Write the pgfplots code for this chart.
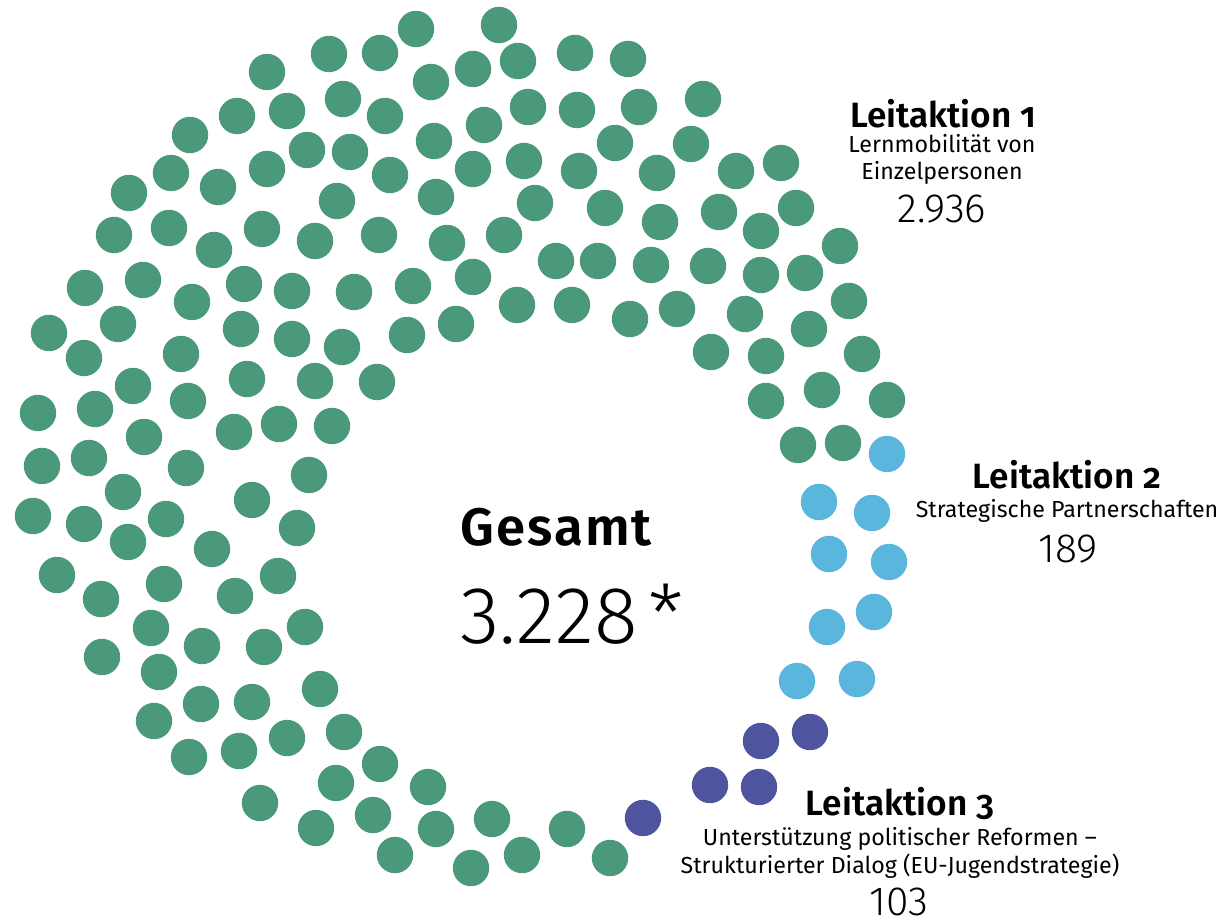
\documentclass[border=0pt]{standalone}
\usepackage{fontspec}
\setmainfont{Fira Sans}[BoldFont={Fira Sans SemiBold}]
\newfontfamily\lightfont{Fira Sans Light}
\usepackage{pgfplots}
\pgfplotsset{compat=1.18}
\definecolor{kaeins}{HTML}{4A997A}
\definecolor{kazwei}{HTML}{5BB6DE}
\definecolor{kadrei}{HTML}{4E559E}
\newcommand{\osf}[1]{{\addfontfeatures{Numbers=OldStyle}#1}}

\begin{document}
\begin{tikzpicture}
\begin{axis}[
  width=12.27cm, height=9.24cm, scale only axis,
  xmin=0, xmax=1227, ymin=0, ymax=924, y dir=reverse,
  hide axis, clip=false,
]
% Leitaktion 1 (gruen)
\addplot[only marks, mark=*, kaeins, mark size=1.75mm] coordinates {
(416,29) (499,25)
(329,54) (380,53) (575,53) (628,59)
(267,72) (431,82) (473,69) (518,61)
(703,99)
(237,116) (287,111) (343,99) (385,116)
(528,107) (577,110) (639,107)
(190,135)
(434,141) (484,125)
(615,143) (691,144)
(171,173) (218,187) (267,169) (307,150) (350,152) (390,175)
(473,169) (524,161) (579,171) (657,173) (736,171) (781,163)
(129,193)
(337,201) (436,197) (535,203) (605,208) (660,222) (719,212) (761,231) (796,208)
(114,235) (169,228) (214,250) (262,229) (315,241) (379,235)
(447,243) (504,235) (556,261) (598,261) (651,265) (708,266) (761,275) (805,273) (840,246)
(85,288) (143,280) (192,302) (244,284) (292,291) (354,292) (413,286) (473,277)
(849,301)
(517,305) (572,305) (630,319) (677,309) (745,314)
(49,333) (118,324) (84,358) (181,354) (241,329) (292,339) (342,347) (407,335) (456,324)
(711,352) (766,356) (809,329) (862,354)
(38,413) (95,409) (133,386) (188,401) (247,379) (315,381) (377,382)
(766,401) (822,390) (887,400)
(42,466) (89,458) (144,437) (234,432) (279,424) (332,426)
(798,445) (843,443)
(186,468) (309,475) (123,492) (252,500)
(33,516) (84,524) (166,519) (297,528)
(128,542) (212,549)
(57,575) (101,599) (164,584) (235,596) (278,576)
(102,657) (151,628) (202,646) (264,647) (305,627)
(159,672) (320,689) (201,704) (252,702) (154,721) (287,738) (344,732)
(189,757) (239,751) (380,764)
(336,783) (428,787) (260,803)
(316,828) (373,815) (436,829) (492,819) (567,829)
(395,855) (471,868) (522,855) (610,858)
};
% Leitaktion 2 (hellblau)
\addplot[only marks, mark=*, kazwei, mark size=1.75mm] coordinates {
(887,454) (819,502) (872,513) (829,554) (889,562) (827,627) (874,612) (797,681) (857,679)
};
% Leitaktion 3 (dunkelblau)
\addplot[only marks, mark=*, kadrei, mark size=1.75mm] coordinates {
(643,818) (710,785) (759,787) (761,741) (810,732)
};

% Beschriftungen
\node[anchor=base, font=\fontsize{15}{17}\selectfont\bfseries\addfontfeatures{LetterSpace=4}] at (axis cs:556,545) {Gesamt};
\node[anchor=base, font=\fontsize{23}{26}\selectfont\lightfont] at (axis cs:572,643) {3.228\hspace{3pt}*};

\node[anchor=base, font=\fontsize{10}{12}\selectfont\bfseries] at (axis cs:943,128) {Leitaktion \osf{1}};
\node[anchor=base, font=\fontsize{6.6}{8}\selectfont] at (axis cs:942,153) {Lernmobilität von};
\node[anchor=base, font=\fontsize{6.6}{8}\selectfont] at (axis cs:942,180) {Einzelpersonen};
\node[anchor=base, font=\fontsize{11.6}{13}\selectfont\lightfont] at (axis cs:942,223) {2.936};

\node[anchor=base, font=\fontsize{10}{12}\selectfont\bfseries] at (axis cs:1067,489) {Leitaktion \osf{2}};
\node[anchor=base, font=\fontsize{6.6}{8}\selectfont] at (axis cs:1067,518) {Strategische Partnerschaften};
\node[anchor=base, font=\fontsize{11.6}{13}\selectfont\lightfont] at (axis cs:1068,562) {189};

\node[anchor=base, font=\fontsize{10}{12}\selectfont\bfseries] at (axis cs:900,815) {Leitaktion \osf{3}};
\node[anchor=base, font=\fontsize{6.6}{8}\selectfont] at (axis cs:900,845) {Unterstützung politischer Reformen –};
\node[anchor=base, font=\fontsize{6.6}{8}\selectfont] at (axis cs:900,873) {Strukturierter Dialog (EU-Jugendstrategie)};
\node[anchor=base, font=\fontsize{11.6}{13}\selectfont\lightfont] at (axis cs:899,915) {103};
\end{axis}
\pgfresetboundingbox
\path (current axis.south west) rectangle (current axis.north east);
\end{tikzpicture}
\end{document}
